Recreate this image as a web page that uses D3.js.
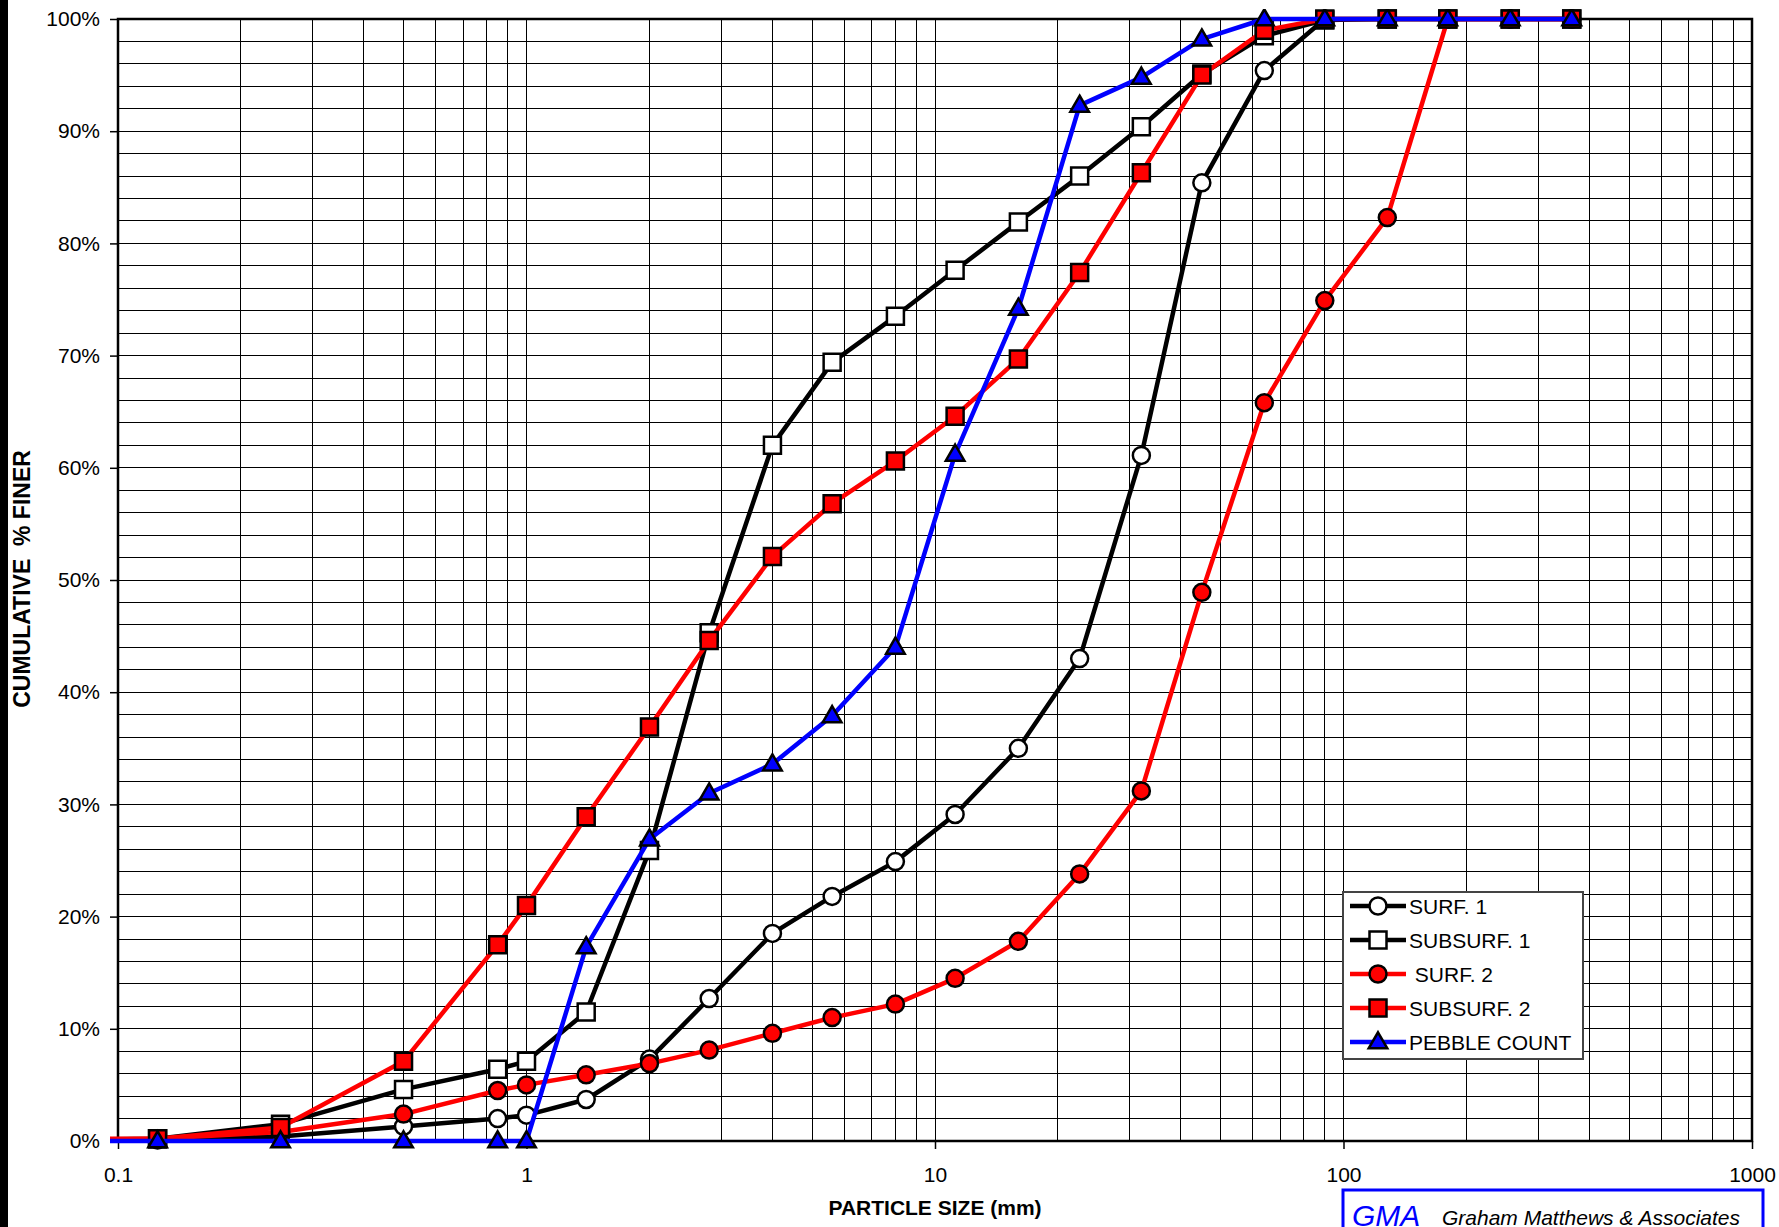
<!DOCTYPE html>
<html>
<head>
<meta charset="utf-8">
<script src="https://cdn.jsdelivr.net/npm/d3@7"></script>
<style>
html,body{margin:0;padding:0;background:#fff;}
svg{display:block;font-family:"Liberation Sans",Arial,sans-serif;}
text{white-space:pre;}
</style>
</head>
<body>
<svg id="chart" width="1779" height="1227"></svg>
<script>
// ---- data ----
const sizes = [0.0625, 0.125, 0.25, 0.5, 0.85, 1, 1.4, 2, 2.8, 4, 5.6, 8, 11.2, 16, 22.6, 32, 45, 64, 90, 128, 180, 256, 362];
const surf1     = [0, 0.1, 0.4, 1.3, 2.0, 2.3, 3.7, 7.3, 12.7, 18.5, 21.8, 24.9, 29.1, 35.0, 43.0, 61.1, 85.4, 95.4, 100, 100, 100, 100, 100];
const subsurf1  = [0.1, 0.2, 1.5, 4.6, 6.4, 7.1, 11.5, 25.9, 45.3, 62.0, 69.4, 73.5, 77.6, 81.9, 86.0, 90.4, 95.1, 98.5, 99.9, 100, 100, 100, 100];
const surf2     = [0, 0.2, 0.8, 2.4, 4.5, 5.0, 5.9, 6.9, 8.1, 9.6, 11.0, 12.2, 14.5, 17.8, 23.8, 31.2, 48.9, 65.8, 74.9, 82.3, 100, 100, 100];
const subsurf2  = [0.2, 0.2, 1.2, 7.1, 17.5, 21.0, 28.9, 36.9, 44.6, 52.1, 56.8, 60.6, 64.6, 69.7, 77.4, 86.3, 95.0, 99.0, 100, 100, 100, 100, 100];
const pebble    = [0, 0, 0, 0, 0, 0, 17.3, 26.9, 31.0, 33.6, 37.9, 44.0, 61.2, 74.2, 92.3, 94.8, 98.2, 100, 100, 100, 100, 100, 100];
const seriesNames = ["SURF. 1", "SUBSURF. 1", " SURF. 2", "SUBSURF. 2", "PEBBLE COUNT"];
const xTickValues = [0.1, 1, 10, 100, 1000];
const xTickLabels = ["0.1", "1", "10", "100", "1000"];
const yTickValues = [0, 10, 20, 30, 40, 50, 60, 70, 80, 90, 100];
const xTitle = "PARTICLE SIZE (mm)";
const yTitle = "CUMULATIVE  % FINER";

const series = [
  {name: seriesNames[0], values: surf1,    line: "#000000", fill: "#ffffff", shape: "circle"},
  {name: seriesNames[1], values: subsurf1, line: "#000000", fill: "#ffffff", shape: "square"},
  {name: seriesNames[2], values: surf2,    line: "#ff0000", fill: "#ff0000", shape: "circle"},
  {name: seriesNames[3], values: subsurf2, line: "#ff0000", fill: "#ff0000", shape: "square"},
  {name: seriesNames[4], values: pebble,   line: "#0000ff", fill: "#0000ff", shape: "triangle"}
];

// ---- layout ----
const L = 118, T = 19, R = 1752, B = 1141;
const svg = d3.select("#chart");
const x = d3.scaleLog().domain([0.1, 1000]).range([L, R]);
const y = d3.scaleLinear().domain([0, 100]).range([B, T]);

// left black bar
svg.append("rect").attr("x", 0).attr("y", 0).attr("width", 8).attr("height", 1227).attr("fill", "#000");

// gridlines
const grid = svg.append("g").attr("stroke", "#000").attr("stroke-width", 1).attr("shape-rendering", "crispEdges");
grid.selectAll("line.h").data(d3.range(0, 101, 2)).join("line")
  .attr("x1", L).attr("x2", R).attr("y1", d => y(d)).attr("y2", d => y(d));
const minor = [];
for (let e = -1; e < 3; e++) for (let m = 1; m <= 9; m++) minor.push(m * Math.pow(10, e));
minor.push(1000);
grid.selectAll("line.v").data(minor).join("line")
  .attr("y1", T).attr("y2", B).attr("x1", d => x(d)).attr("x2", d => x(d));

// axes
const yAxis = d3.axisLeft(y).tickValues(yTickValues).tickFormat(d => d + "%").tickSize(8).tickPadding(10);
const gy = svg.append("g").attr("transform", `translate(${L},0)`).call(yAxis);
gy.select(".domain").remove();
gy.selectAll(".tick line").attr("stroke", "#000").attr("stroke-width", 1.5);
gy.selectAll(".tick text").attr("font-size", 21).attr("fill", "#000").attr("font-family", "Liberation Sans, Arial, sans-serif");

const xAxis = d3.axisBottom(x).tickValues(xTickValues).tickFormat((d, i) => xTickLabels[i]).tickSize(8).tickPadding(18);
const gx = svg.append("g").attr("transform", `translate(0,${B})`).call(xAxis);
gx.select(".domain").remove();
gx.selectAll(".tick line").attr("stroke", "#000").attr("stroke-width", 1.5);
gx.selectAll(".tick text").attr("font-size", 21).attr("fill", "#000").attr("font-family", "Liberation Sans, Arial, sans-serif");

// plot border
svg.append("rect").attr("x", L).attr("y", T).attr("width", R - L).attr("height", B - T)
  .attr("fill", "none").attr("stroke", "#000").attr("stroke-width", 2.5);

// clip
svg.append("clipPath").attr("id", "clip").append("rect")
  .attr("x", L - 8).attr("y", T - 10).attr("width", R - L + 16).attr("height", B - T + 20);

const line = d3.line().x((d, i) => x(sizes[i])).y(d => y(d));
const sym = {
  circle: d3.symbol().type(d3.symbolCircle).size(Math.PI * 8.5 * 8.5),
  square: d3.symbol().type(d3.symbolSquare).size(17 * 17),
  triangle: d3.symbol().type(d3.symbolTriangle).size(150)
};

const plot = svg.append("g").attr("clip-path", "url(#clip)");
series.forEach(s => {
  const g = plot.append("g");
  g.append("path").attr("d", line(s.values)).attr("fill", "none")
    .attr("stroke", s.line).attr("stroke-width", 4.5).attr("stroke-linejoin", "round");
  g.selectAll("path.m").data(s.values.map((v, i) => [sizes[i], v]).filter(d => d[0] >= 0.1)).join("path")
    .attr("d", sym[s.shape]())
    .attr("transform", d => `translate(${x(d[0])},${y(d[1]) + (s.shape === "triangle" ? 1 : 0)})`)
    .attr("fill", s.fill).attr("stroke", "#000").attr("stroke-width", 2.5);
});

// legend
const lg = svg.append("g");
lg.append("rect").attr("x", 1343).attr("y", 892).attr("width", 240).attr("height", 167)
  .attr("fill", "#fff").attr("stroke", "#444").attr("stroke-width", 2);
series.forEach((s, i) => {
  const cy = 906 + i * 34;
  lg.append("line").attr("x1", 1350).attr("x2", 1406).attr("y1", cy).attr("y2", cy)
    .attr("stroke", s.line).attr("stroke-width", 4.5);
  lg.append("path").attr("d", sym[s.shape]()).attr("transform", `translate(1378,${cy + (s.shape === "triangle" ? 1 : 0)})`)
    .attr("fill", s.fill).attr("stroke", "#000").attr("stroke-width", 2.5);
  lg.append("text").attr("x", 1409).attr("y", cy).attr("dy", "0.36em").attr("font-size", 21).attr("fill", "#000").text(s.name);
});

// titles
svg.append("text").attr("x", (L + R) / 2).attr("y", 1215).attr("text-anchor", "middle")
  .attr("font-size", 21).attr("font-weight", "bold").text(xTitle);
svg.append("text").attr("transform", `translate(30,579) rotate(-90)`).attr("text-anchor", "middle")
  .attr("font-size", 23).attr("font-weight", "bold").text(yTitle);

// GMA box
svg.append("rect").attr("x", 1343).attr("y", 1190).attr("width", 420).attr("height", 60)
  .attr("fill", "#fff").attr("stroke", "#0000ff").attr("stroke-width", 3);
svg.append("text").attr("x", 1352).attr("y", 1226).attr("font-size", 30).attr("font-style", "italic")
  .attr("fill", "#0000ff").text("GMA");
svg.append("text").attr("x", 1442).attr("y", 1225).attr("font-size", 21).attr("font-style", "italic")
  .attr("fill", "#000").text("Graham Matthews & Associates");
</script>
</body>
</html>
